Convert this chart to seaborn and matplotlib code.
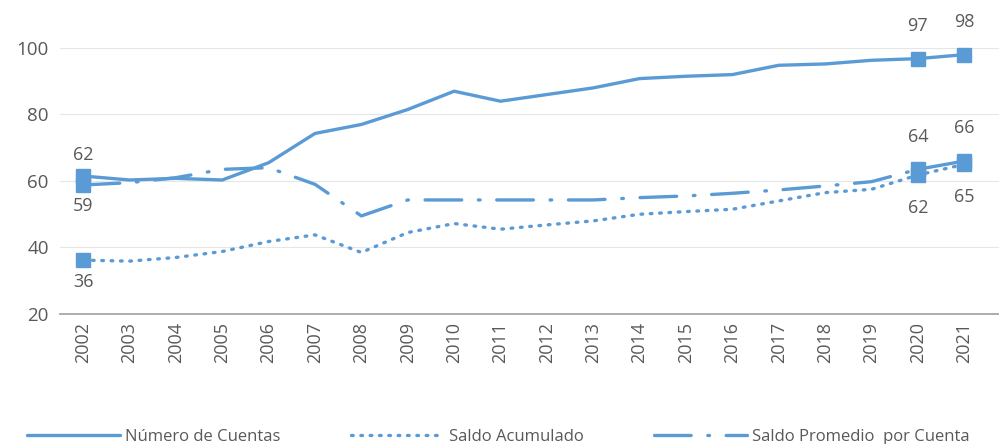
import matplotlib
matplotlib.use("Agg")
import matplotlib.pyplot as plt
import pandas as pd
import seaborn as sns

years = [str(y) for y in range(2002, 2022)]

cuentas = [61.5, 60.3, 60.8, 60.3, 65.5, 74.3, 77.0, 81.5, 87.0, 84.0,
           86.0, 88.0, 90.8, 91.5, 92.0, 94.8, 95.2, 96.3, 96.8, 98.0]
acumulado = [36.2, 35.9, 37.0, 38.8, 41.8, 43.8, 38.5, 44.5, 47.2, 45.5,
             46.8, 48.0, 50.0, 50.8, 51.5, 54.0, 56.5, 57.5, 61.8, 65.0]
promedio = [58.8, 59.5, 61.0, 63.5, 64.0, 59.0, 49.5, 54.3, 54.3, 54.3,
            54.3, 54.3, 55.0, 55.5, 56.3, 57.3, 58.5, 59.8, 63.5, 66.0]

names = ["Número de Cuentas", "Saldo Acumulado", "Saldo Promedio  por Cuenta"]
label_idx = [0, 18, 19]
# label above (+1) or below (-1) the point
label_side = {
    names[0]: [1, 1, 1],
    names[1]: [-1, -1, -1],
    names[2]: [-1, 1, 1],
}
label_gap = [9, 17, 17]

sns.set_style("white")
plt.rcParams["font.family"] = ["Open Sans", "DejaVu Sans"]

blue = "#5B9BD5"
grey = "#595959"

df = pd.DataFrame({"year": years, names[0]: cuentas,
                   names[1]: acumulado, names[2]: promedio})

fig = plt.figure(figsize=(9.99, 4.44), dpi=100)
ax = fig.add_axes([0.06, 0.2928, 0.94, 0.5991])

styles = {
    names[0]: "-",
    names[1]: (0, (0.5, 2.3)),
    names[2]: (0, (11, 5, 0.5, 5)),
}

for name in names:
    sns.lineplot(data=df, x="year", y=name, ax=ax, color=blue, lw=2.4,
                 linestyle=styles[name], label=name, sort=False,
                 dash_capstyle="round")
    sub = df.iloc[label_idx]
    ax.plot(sub["year"], sub[name], "s", color=blue, ms=10,
            clip_on=False, zorder=5)
    for k, i in enumerate(label_idx):
        v = df[name].iloc[i]
        side = label_side[name][k]
        ax.annotate(f"{round(v):.0f}", (i, v), xytext=(0, label_gap[k] * side),
                    textcoords="offset points", ha="center",
                    va="bottom" if side > 0 else "top",
                    fontsize=13, color=grey, annotation_clip=False)

ax.set_ylim(20, 100)
ax.set_xlim(-0.5, 19.75)
ax.set_yticks([20, 40, 60, 80, 100])
ax.yaxis.grid(True, color="#E6E6E6", lw=0.8)
ax.set_xlabel("")
ax.set_ylabel("")
for s in ["top", "right", "left"]:
    ax.spines[s].set_visible(False)
ax.spines["bottom"].set_color("#A6A6A6")
ax.spines["bottom"].set_linewidth(1.3)
ax.tick_params(axis="x", rotation=90, labelsize=13, colors=grey, length=0, pad=6)
ax.tick_params(axis="y", labelsize=13.5, colors=grey, length=0, pad=8)

ax.legend(loc="center left", bbox_to_anchor=(-0.035, -0.462), ncol=3,
          frameon=False, fontsize=12, handlelength=5.6, columnspacing=4.2,
          handletextpad=0.3, labelcolor=grey, borderpad=0, borderaxespad=0)

fig.savefig("out.png", dpi=100)
